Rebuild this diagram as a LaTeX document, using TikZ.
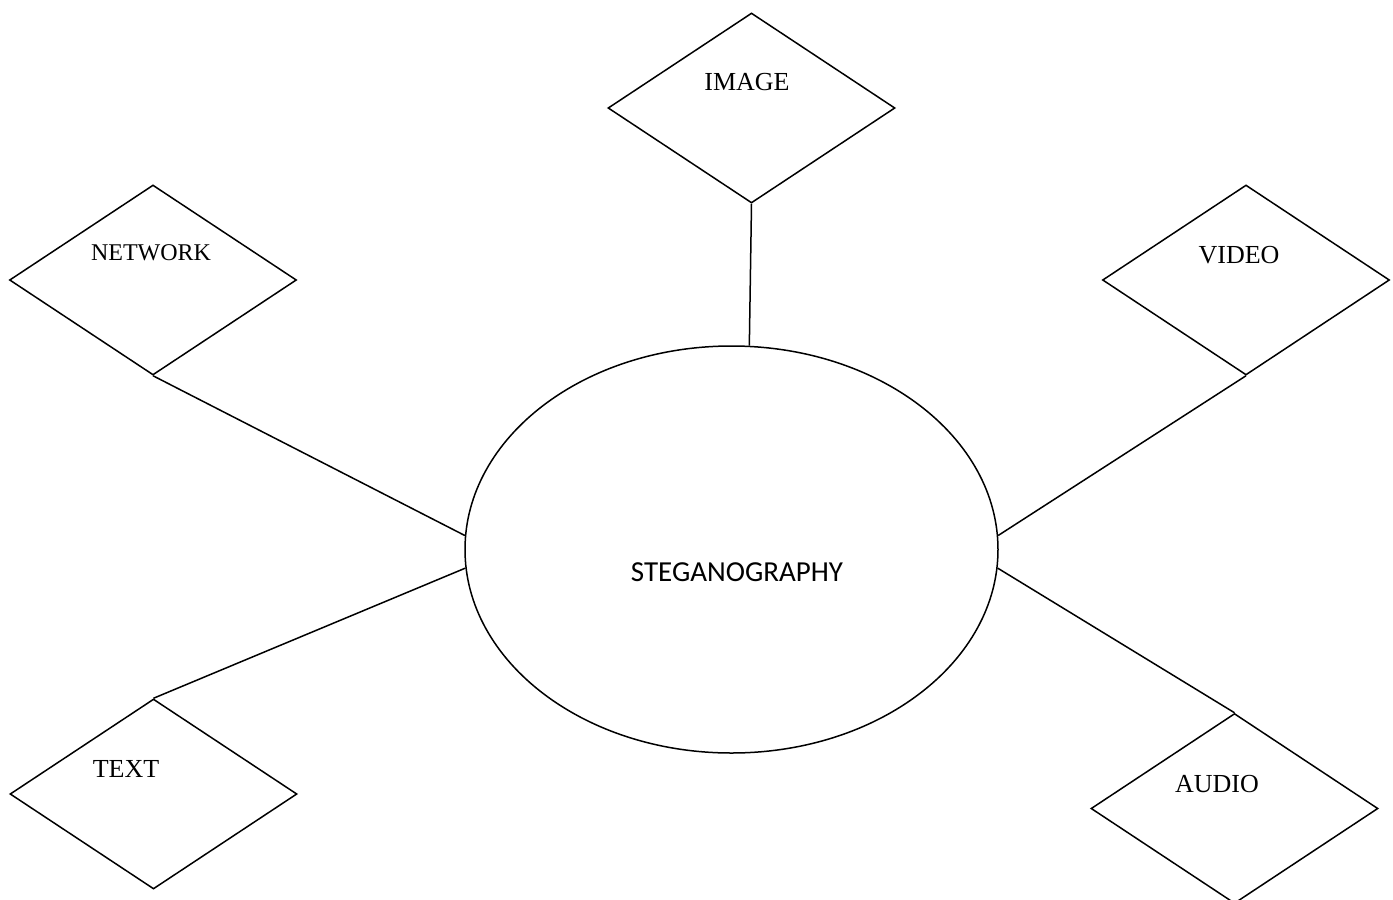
\documentclass[tikz,border=0pt]{standalone}
\usepackage{fontspec}
\setmainfont{Liberation Serif}
\newfontfamily\calib{Carlito}
\usetikzlibrary{shapes.geometric}
\begin{document}
\begin{tikzpicture}[x=1pt,y=-1pt,
  dia/.style={diamond,draw,line width=1.5pt,inner sep=0pt,minimum width=287pt,minimum height=190pt},
  lbl/.style={inner sep=0pt,font=\fontsize{26}{30}\selectfont},
  conn/.style={line width=1.5pt}]
\useasboundingbox (0,0) rectangle (1393,900);
\node[ellipse,draw,line width=1.5pt,inner sep=0pt,minimum width=533pt,minimum height=407pt] (ell) at (731.5,549.5) {};
\node[inner sep=0pt,font=\calib\fontsize{29}{33}\selectfont] (st) at (737,572) {STEGANOGRAPHY};
\node[dia] (img) at (751.5,108) {};
\node[dia] (net) at (153,280) {};
\node[dia] (vid) at (1246,280) {};
\node[dia] (txt) at (153.5,794) {};
\node[dia] (aud) at (1234.5,808.5) {};
\node[lbl] (limg) at (747,82) {IMAGE};
\node[lbl,font=\fontsize{24}{28}\selectfont] (lnet) at (151,253) {NETWORK};
\node[lbl] (lvid) at (1239,255) {VIDEO};
\node[lbl] (ltxt) at (126,769) {TEXT};
\node[lbl] (laud) at (1217,784) {AUDIO};
\draw[conn] (img.south) -- (ell.85);
\draw[conn] (net.south) -- (ell.177);
\draw[conn] (vid.south) -- (ell.3);
\draw[conn] (txt.north) -- (ell.184.5);
\draw[conn] (aud.north) -- (ell.356);
\end{tikzpicture}
\end{document}
